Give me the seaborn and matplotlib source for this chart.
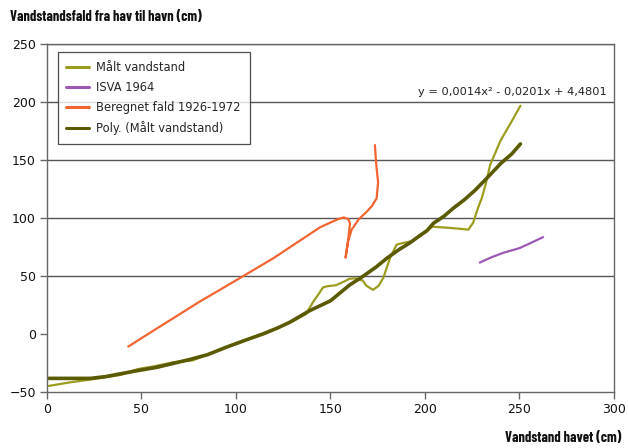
import matplotlib
matplotlib.use("Agg")
import matplotlib.pyplot as plt
from matplotlib import font_manager
import seaborn as sns
import pandas as pd

# Målt vandstand (measured): sea level (cm) vs. drop from sea to harbour (cm)
maalt_x = [1, 12, 23, 31, 39, 48, 57, 67, 77, 88, 100, 114, 129, 137, 141, 144, 146, 148,
           153, 157, 160, 163, 167, 169, 172.5, 175.5, 178, 181.5, 185, 188.5, 193, 198,
           204, 213, 223, 225.5, 228, 230, 232, 234.5, 240, 245, 250.5]
maalt_y = [-45, -42, -39.5, -37.5, -35.5, -30.5, -28, -24.5, -23, -16, -8.6, 0, 10, 17,
           28, 35, 40, 41, 42, 45, 47.5, 48, 46, 41.5, 38, 41.5, 48.5, 65.5, 77, 78.5, 80,
           86, 92.5, 91.5, 90, 96, 108.5, 117, 128.5, 146, 167, 181, 197]

# ISVA 1964
isva_x = [229, 235, 241.5, 250, 256, 262.5]
isva_y = [61.5, 66, 70, 74, 78.5, 83.5]

# Beregnet fald 1926-1972
beregnet_x = [43, 60, 80, 104, 120, 132, 144.5, 150.5, 154, 157, 159.5, 160.3, 159.3, 158,
              159.3, 161.2, 165, 169.2, 172, 174.4, 175.2, 174.6, 174.1, 173.5]
beregnet_y = [-11, 6.5, 27, 50, 65.5, 78.5, 92, 96.5, 99, 100.5, 99, 95.4, 80, 66,
              80, 90, 99, 105.5, 110.5, 117, 131, 140, 148.5, 163]

# Poly. (Målt vandstand): second-order trend line
poly_x = [1, 12, 23, 31, 39, 49, 58, 67, 76, 85, 95, 105, 114.5, 122, 128.5, 139, 150,
          160, 167.5, 174, 180, 186.5, 192, 197, 201, 204.5, 210, 215, 221, 226.5, 232.5,
          236, 240, 246, 250.5]
poly_y = [-38.5, -38.5, -38.5, -37, -34.5, -31.5, -29, -25.5, -22, -18, -11.5, -5.5, 0,
          5, 10, 20, 28.5, 42, 50, 57.5, 65.5, 73, 78.5, 84.5, 89, 95.5, 101.5, 108.5,
          116, 124, 134, 140, 147, 155.5, 164]

series_names = ["Målt vandstand", "ISVA 1964", "Beregnet fald 1926-1972",
                "Poly. (Målt vandstand)"]
equation = "y = 0,0014x² - 0,0201x + 4,4801"
y_title = "Vandstandsfald fra hav til havn (cm)"
x_title = "Vandstand havet (cm)"

sns.set_style("white")
plt.rcParams["font.family"] = ["DejaVu Sans"]

# Condensed bold face for the axis titles
installed = {f.name for f in font_manager.fontManager.ttflist}
if "Barlow Condensed" in installed:
    title_font = dict(family=["Barlow Condensed", "DejaVu Sans"], fontsize=10.4)
elif "Barlow Semi Condensed" in installed:
    title_font = dict(family=["Barlow Semi Condensed", "DejaVu Sans"], fontsize=9.4)
else:
    title_font = dict(family=["DejaVu Sans"], fontstretch="condensed", fontsize=8.5)

fig = plt.figure(figsize=(6.28, 4.48), dpi=100)
ax = fig.add_axes([0.0748, 0.1257, 0.9029, 0.7753])

frames = [
    (maalt_x, maalt_y, series_names[0], "#9c9c1e", 1.6),
    (isva_x, isva_y, series_names[1], "#9b59b6", 1.6),
    (beregnet_x, beregnet_y, series_names[2], "#f26531", 1.6),
    (poly_x, poly_y, series_names[3], "#5a5a00", 2.6),
]
for xs, ys, name, color, lw in frames:
    df = pd.DataFrame({"x": xs, "y": ys})
    sns.lineplot(data=df, x="x", y="y", sort=False, estimator=None, color=color,
                 linewidth=lw, label=name, ax=ax)

ax.set_xlim(0, 300)
ax.set_ylim(-50, 250)
ax.set_xticks(range(0, 301, 50))
ax.set_yticks(range(-50, 251, 50))
for yv in range(50, 251, 50):
    ax.axhline(yv, color="#555555", linewidth=1.0, zorder=0)

for side in ["left", "bottom", "right", "top"]:
    ax.spines[side].set_color("#666666")
    ax.spines[side].set_linewidth(1.0)

ax.tick_params(axis="both", which="major", direction="out", length=5, width=1,
               color="#666666", labelsize=9, labelcolor="#111111", pad=3)
ax.tick_params(axis="y", left=True)
ax.tick_params(axis="x", bottom=True)
ax.set_xlabel("")
ax.set_ylabel("")

ax.text(296, 209, equation, ha="right", va="center", fontsize=8.2, color="#222222")

fig.text(0.016, 0.962, y_title, ha="left", va="center", fontweight="bold",
         color="#111111", **title_font)
fig.text(0.99, 0.022, x_title, ha="right", va="center", fontweight="bold",
         color="#111111", **title_font)

leg = ax.legend(loc="upper left", bbox_to_anchor=(0.019, 0.978), frameon=True,
                fancybox=False, fontsize=8.3, handlelength=2.0, labelspacing=0.62,
                borderpad=0.75, handletextpad=0.6, borderaxespad=0)
leg.get_frame().set_edgecolor("#222222")
leg.get_frame().set_linewidth(0.9)
for line in leg.get_lines():
    line.set_linewidth(2.2)

fig.savefig("out.png", dpi=100)
